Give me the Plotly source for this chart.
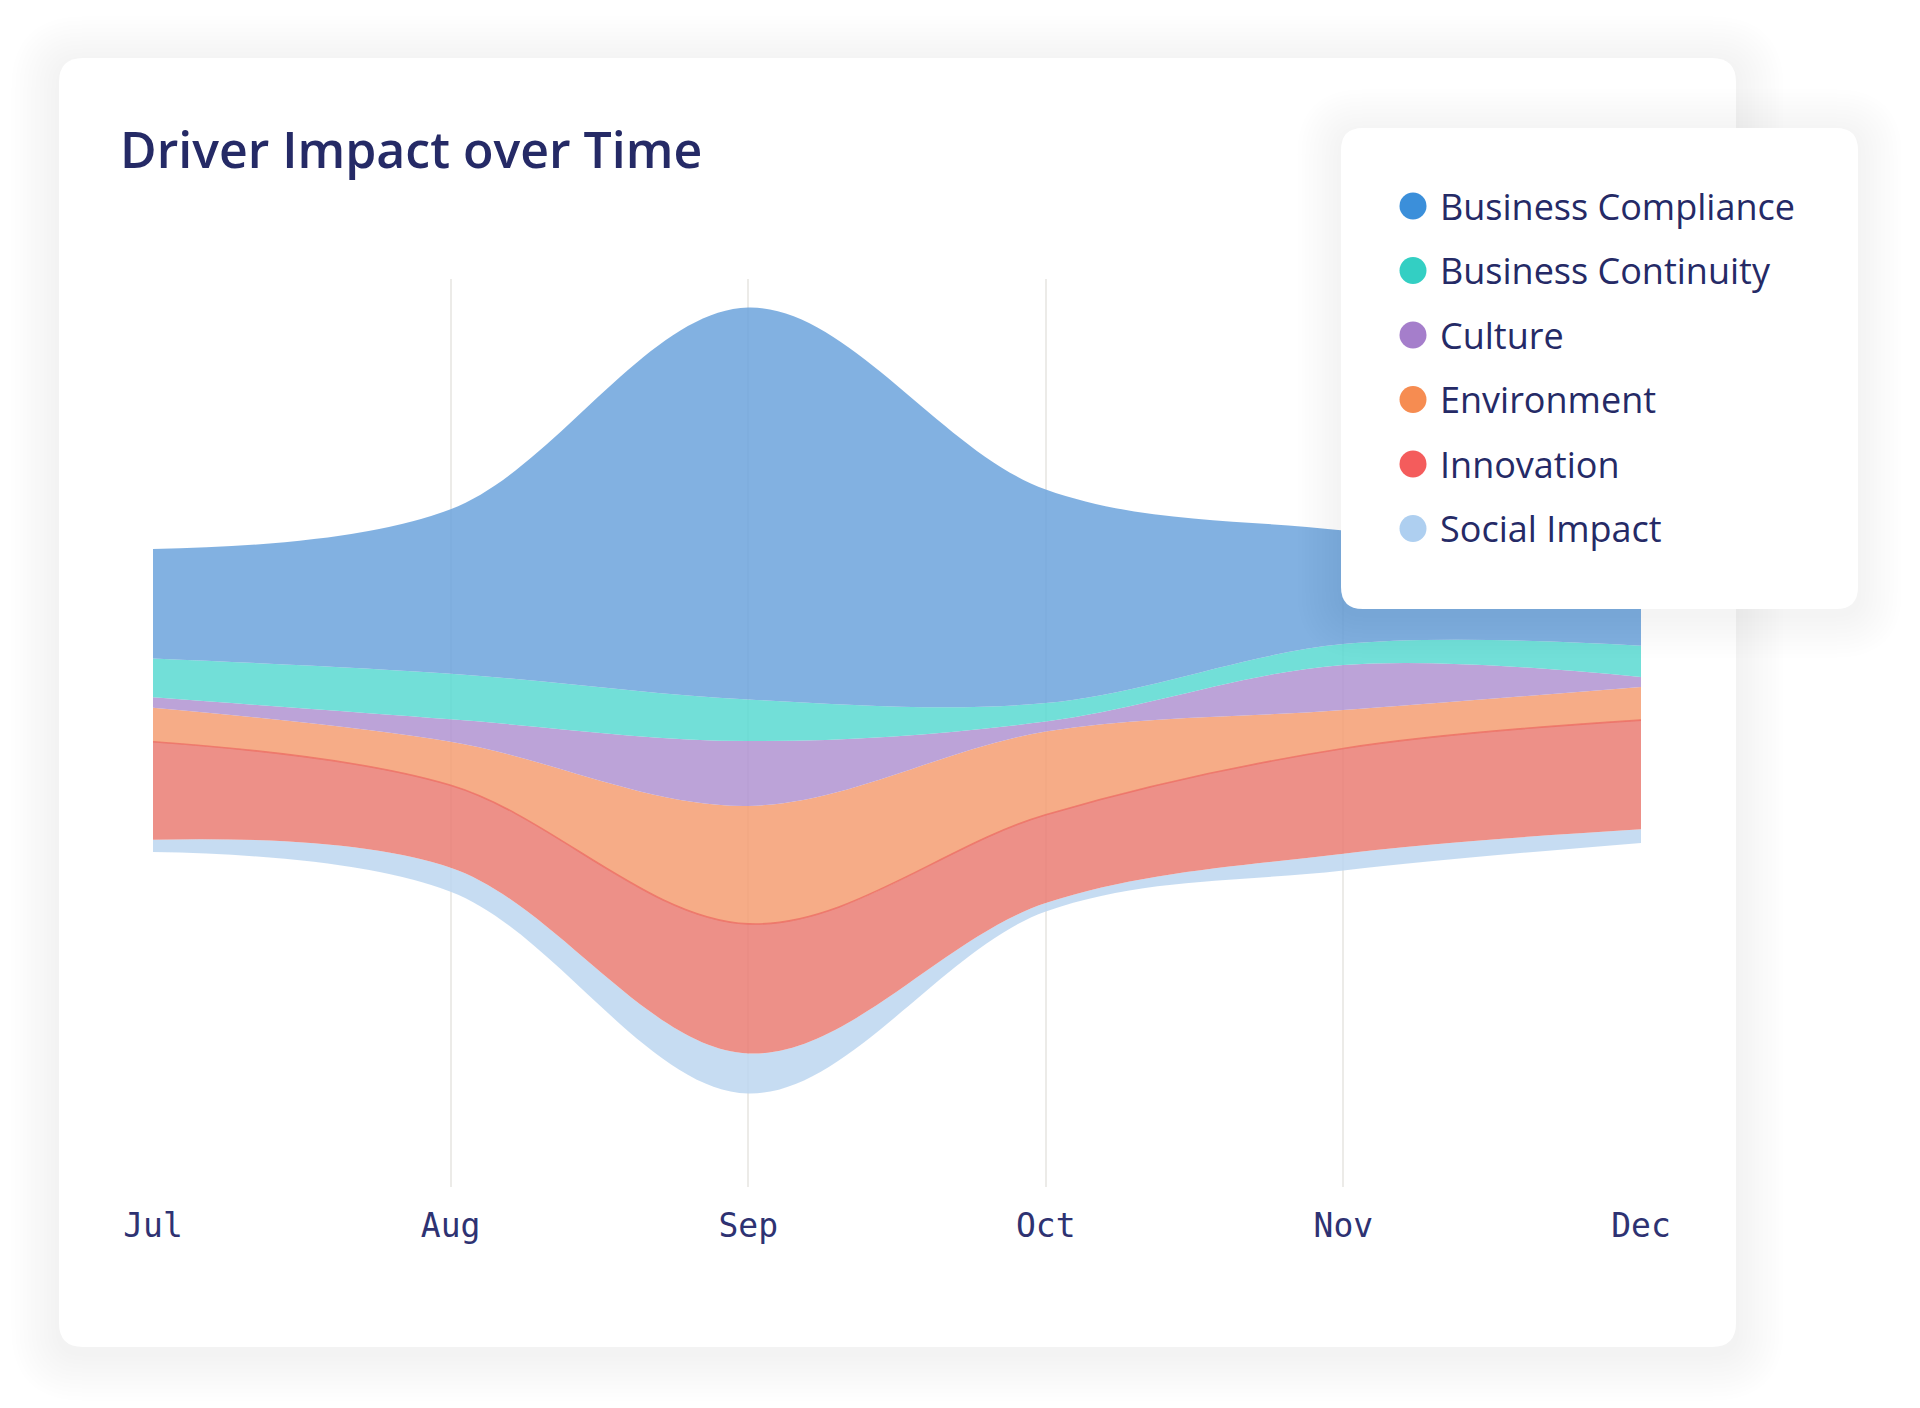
import plotly.graph_objects as go

# ---------------- data ----------------
months = ["Jul", "Aug", "Sep", "Oct", "Nov", "Dec"]

series_names = ["Business Compliance", "Business Continuity", "Culture",
                "Environment", "Innovation", "Social Impact"]

business_compliance = [27.4, 41.1, 98.0, 53.4, 28.4, 21.9]
business_continuity = [9.7, 11.4, 10.4, 4.6, 5.2, 7.8]
culture = [2.6, 5.6, 16.2, 2.5, 11.3, 2.5]
environment = [8.5, 10.9, 29.5, 20.8, 9.6, 8.3]
innovation = [24.5, 20.6, 32.4, 22.1, 26.3, 27.3]
social_impact = [3.1, 6.0, 10.0, 2.1, 4.2, 3.4]

series_values = [business_compliance, business_continuity, culture,
                 environment, innovation, social_impact]

dot_colors = ["#3b8fda", "#33cfc3", "#a57ecb", "#f68c51", "#f45c5c", "#aecff0"]
fill_colors = ["rgba(108,163,220,0.85)", "rgba(89,217,209,0.85)",
               "rgba(176,147,209,0.85)", "rgba(244,158,114,0.85)",
               "rgba(234,124,115,0.85)", "rgba(188,214,240,0.85)"]

NAVY = "#252a66"

# ---------------- geometry (pixels, page coordinates) ----------------
FW, FH = 1920, 1408
OFF = 8  # page body margin around the figure
L, R, T, B = 153 - OFF, 1641 - OFF, 279 - OFF, 1187 - OFF
W, H = R - L, B - T
CENTER_PX = 700.5 - OFF
PX_PER_UNIT = 4.0
y_max = (CENTER_PX - T) / PX_PER_UNIT
y_min = -(B - CENTER_PX) / PX_PER_UNIT


def px(x):
    return (x - OFF - L) / W


def py(y):
    return (B - (y - OFF)) / H


def P(x, y):
    return f"{px(x):.5f},{py(y):.5f}"


def rrect_path(x0, y0, x1, y1, r):
    return (f"M{P(x0 + r, y0)} L{P(x1 - r, y0)} Q{P(x1, y0)} {P(x1, y0 + r)} "
            f"L{P(x1, y1 - r)} Q{P(x1, y1)} {P(x1 - r, y1)} "
            f"L{P(x0 + r, y1)} Q{P(x0, y1)} {P(x0, y1 - r)} "
            f"L{P(x0, y0 + r)} Q{P(x0, y0)} {P(x0 + r, y0)} Z")


def shadow_shapes(x0, y0, x1, y1, r, layer, n=12, step=4.0, alpha=0.005, dy=6):
    out = []
    for i in range(n, 0, -1):
        e = i * step
        out.append(dict(type="path", xref="paper", yref="paper", layer=layer,
                        path=rrect_path(x0 - e, y0 - e + dy, x1 + e, y1 + e + dy, r + e),
                        fillcolor=f"rgba(0,0,0,{alpha})", line=dict(width=0)))
    return out


# ---------------- traces (streamgraph, silhouette baseline) ----------------
totals = [sum(v[i] for v in series_values) for i in range(len(months))]
baseline = [-t / 2 for t in totals]

fig = go.Figure()
fig.add_trace(go.Scatter(x=months, y=baseline, stackgroup="stream", mode="lines",
                         line=dict(width=0, shape="spline"), fill="none",
                         fillcolor="rgba(0,0,0,0)", hoverinfo="skip", showlegend=False))

for idx in range(len(series_names) - 1, -1, -1):
    lw = 1.6 if series_names[idx] == "Innovation" else 0
    fig.add_trace(go.Scatter(
        x=months, y=series_values[idx], name=series_names[idx],
        stackgroup="stream", mode="lines", fill="tonexty",
        fillcolor=fill_colors[idx],
        line=dict(width=lw, shape="spline", smoothing=1.0,
                  color="rgba(236,112,100,0.85)"),
        showlegend=False))

# ---------------- decorations ----------------
shapes = []
# card
CARD = (59, 58, 1736, 1347)
shapes += shadow_shapes(*CARD, 24, "below", n=12, step=4.0, alpha=0.0037, dy=6)
shapes.append(dict(type="path", xref="paper", yref="paper", layer="below",
                   path=rrect_path(*CARD, 24), fillcolor="white", line=dict(width=0)))

# legend box
LEG = (1341, 128, 1858, 609)
shapes += shadow_shapes(*LEG, 22, "above", n=11, step=4.0, alpha=0.0045, dy=5)
shapes.append(dict(type="path", xref="paper", yref="paper", layer="above",
                   path=rrect_path(*LEG, 22), fillcolor="white", line=dict(width=0)))

annotations = []
row_y0, row_step = 206, 64.5
for i, name in enumerate(series_names):
    cy = row_y0 + i * row_step
    shapes.append(dict(type="circle", xref="paper", yref="paper", layer="above",
                       xsizemode="pixel", ysizemode="pixel",
                       xanchor=px(1413), yanchor=py(cy),
                       x0=-13.5, x1=13.5, y0=-13.5, y1=13.5,
                       fillcolor=dot_colors[i], line=dict(width=0)))
    annotations.append(dict(text=name, xref="paper", yref="paper",
                            x=px(1438), y=py(cy), xanchor="left", yanchor="middle",
                            showarrow=False,
                            font=dict(family="Open Sans", size=36, color=NAVY)))

fig.update_layout(
    width=FW, height=FH, autosize=False,
    margin=dict(l=L, r=FW - R, t=T, b=FH - B, pad=0),
    paper_bgcolor="white", plot_bgcolor="rgba(0,0,0,0)",
    showlegend=False,
    title=dict(text="Driver Impact over Time", xref="container", yref="container",
               x=(120 - OFF) / FW, xanchor="left", y=1 - (150 - OFF) / FH, yanchor="middle",
               font=dict(family="Open Sans", size=50, weight=600, color=NAVY)),
    xaxis=dict(type="category", range=[0, 5], showgrid=True, gridcolor="#ecebe8",
               gridwidth=2, zeroline=False, showline=False, ticks="",
               tickfont=dict(family="DejaVu Sans Mono", size=33, color="#2e3272"),
               automargin=False, fixedrange=True, ticklabelstandoff=16),
    yaxis=dict(range=[y_min, y_max], visible=False, fixedrange=True),
    shapes=shapes, annotations=annotations,
    hovermode=False,
)

fig.write_html("out.html")
